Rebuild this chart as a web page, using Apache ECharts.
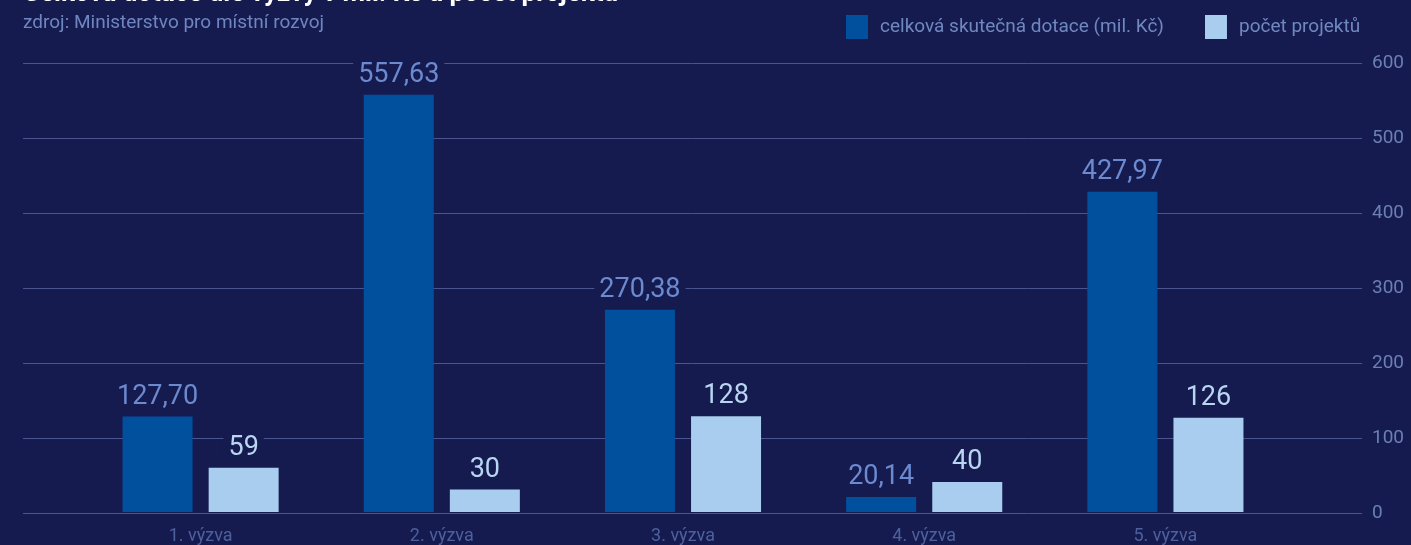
<!DOCTYPE html>
<html>
<head>
<meta charset="utf-8">
<script src="https://cdn.jsdelivr.net/npm/echarts@6/dist/echarts.min.js"></script>
<style>
  html, body { margin: 0; padding: 0; background: #161b4f; }
  #chart { width: 1411px; height: 545px; }
</style>
</head>
<body>
<div id="chart"></div>
<script>
var categories = ["1. výzva", "2. výzva", "3. výzva", "4. výzva", "5. výzva"];
var dotace = [127.70, 557.63, 270.38, 20.14, 427.97];
var projekty = [59, 30, 128, 40, 126];

var bg = "#161b4f";
var font = "Roboto";

var myChart = echarts.init(document.getElementById("chart"));

myChart.setOption({
  backgroundColor: bg,
  textStyle: { fontFamily: font },
  animation: false,
  title: [
    {
      text: "Celková dotace dle výzvy v mil. Kč a počet projektů",
      left: 18,
      top: -24,
      textStyle: { color: "#ffffff", fontSize: 26, fontWeight: "bold", fontFamily: font },
    },
    {
      text: "zdroj: Ministerstvo pro místní rozvoj",
      left: 18,
      top: 9,
      textStyle: { color: "#6f86c0", fontSize: 19, fontWeight: "normal", fontFamily: font },
    },
  ],
  legend: {
    data: ["celková skutečná dotace (mil. Kč)", "počet projektů"],
    left: 841,
    top: 10,
    itemWidth: 22,
    itemHeight: 24,
    itemGap: 41,
    icon: "rect",
    textStyle: { color: "#7088c0", fontSize: 19, padding: [0, 0, 0, 7], fontFamily: font },
  },
  grid: [
    { left: 23, right: 49, top: 63, bottom: 32 },
    { left: 80, right: 125, top: 63, bottom: 32 },
  ],
  xAxis: [
    { gridIndex: 0, type: "value", min: 0, max: 1, show: false },
    {
      gridIndex: 1,
      type: "category",
      data: categories,
      axisLine: { show: false },
      axisTick: { show: false },
      axisLabel: { color: "#4d609e", fontSize: 18, margin: 15 },
    },
  ],
  yAxis: [
    {
      gridIndex: 0,
      type: "value",
      position: "right",
      min: 0,
      max: 600,
      interval: 100,
      axisLine: { show: false },
      axisTick: { show: false },
      axisLabel: { color: "#6b7fb5", fontSize: 19, margin: 10 },
      splitLine: { lineStyle: { color: "#4a5590", width: 1 } },
    },
    { gridIndex: 1, type: "value", min: 0, max: 600, show: false },
  ],
  series: [
    {
      name: "celková skutečná dotace (mil. Kč)",
      type: "bar",
      xAxisIndex: 1,
      yAxisIndex: 1,
      data: dotace,
      barWidth: 70,
      barGap: "23%",
      itemStyle: { color: "#00509e" },
      label: {
        show: true,
        position: "top",
        distance: 6,
        color: "#6b8ad0",
        fontSize: 27,
        backgroundColor: bg,
        padding: [0, 5],
        formatter: function (p) {
          return p.value.toFixed(2).replace(".", ",");
        },
      },
    },
    {
      name: "počet projektů",
      type: "bar",
      xAxisIndex: 1,
      yAxisIndex: 1,
      data: projekty,
      barWidth: 70,
      itemStyle: { color: "#a8cdee" },
      label: {
        show: true,
        position: "top",
        distance: 6,
        color: "#b8d5f2",
        fontSize: 27,
        backgroundColor: bg,
        padding: [0, 5],
      },
    },
  ],
});
</script>
</body>
</html>
